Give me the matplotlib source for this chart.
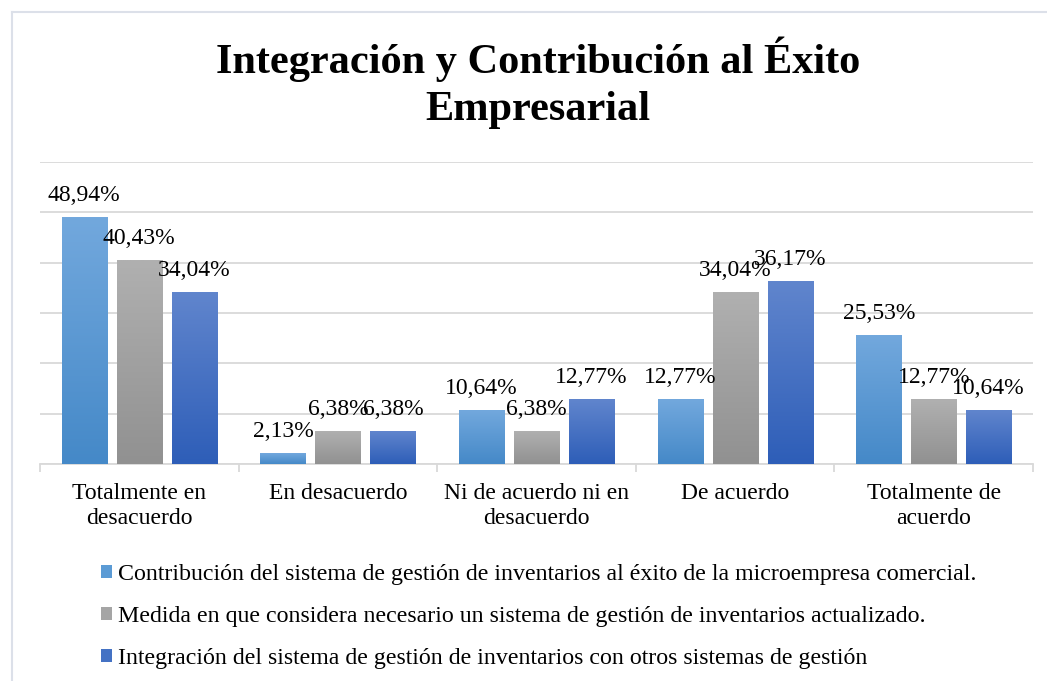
import numpy as np
import matplotlib
matplotlib.use("Agg")
import matplotlib.pyplot as plt
from matplotlib.patches import Patch
from matplotlib.lines import Line2D
from matplotlib.colors import LinearSegmentedColormap

plt.rcParams['font.family'] = ['Liberation Serif', 'DejaVu Serif']

categories = ["Totalmente en\ndesacuerdo", "En desacuerdo", "Ni de acuerdo ni en\ndesacuerdo",
              "De acuerdo", "Totalmente de\nacuerdo"]
contribucion = [48.94, 2.13, 10.64, 12.77, 25.53]
necesario = [40.43, 6.38, 6.38, 34.04, 12.77]
integracion = [34.04, 6.38, 12.77, 36.17, 10.64]
series_names = [
    "Contribución del sistema de gestión de inventarios al éxito de la microempresa comercial.",
    "Medida en que considera necesario un sistema de gestión de inventarios actualizado.",
    "Integración del sistema de gestión de inventarios con otros sistemas de gestión",
]
# (top, bottom) colours of the gradient fill, plus legend colour
gradients = [("#72A8DD", "#4589C8"), ("#B0B0B0", "#919191"), ("#6085CD", "#2E5EB8")]
legend_colors = ["#5B9BD5", "#A5A5A5", "#4472C4"]

fig = plt.figure(figsize=(10.47, 6.81), dpi=100)
ax = fig.add_axes([40 / 1047, 1 - 464 / 681, 993 / 1047, 302 / 681])

x = np.arange(len(categories))
width = 0.227
step = 0.277
all_series = [contribucion, necesario, integracion]

for i, vals in enumerate(all_series):
    offs = (i - 1) * step
    cmap = LinearSegmentedColormap.from_list("g%d" % i, [gradients[i][1], gradients[i][0]])
    bars = ax.bar(x + offs, vals, width, color="none", zorder=3)
    for b, v in zip(bars, vals):
        x0 = b.get_x()
        grad = np.linspace(0, 1, 100).reshape(-1, 1)
        ax.imshow(grad, extent=[x0, x0 + width, 0, v], origin="lower", aspect="auto",
                  cmap=cmap, zorder=3)
        ax.annotate(f"{v:.2f}%".replace(".", ","), (x0 + width / 2, v), xytext=(0, 12),
                    textcoords="offset points", ha="center", va="baseline", fontsize=17,
                    zorder=5)

ax.set_xlim(-0.5, 4.5)
ax.set_ylim(0, 60)
ax.set_yticks(np.arange(0, 61, 10))
ax.yaxis.grid(True, color="#D9D9D9", lw=1.3, zorder=0)
ax.tick_params(axis="y", left=False, labelleft=False)
ax.set_xticks(x)
ax.set_xticklabels(categories, fontsize=17, linespacing=1.25)
ax.tick_params(axis="x", length=0, pad=14)
ax.set_xticks(np.arange(-0.5, 5, 1), minor=True)
ax.tick_params(axis="x", which="minor", length=6, color="#D9D9D9", width=1.3)
for s in ["top", "right", "left"]:
    ax.spines[s].set_visible(False)
ax.spines["bottom"].set_color("#D9D9D9")
ax.spines["bottom"].set_linewidth(1.3)
ax.set_axisbelow(True)

fig.text(538 / 1047, 1 - 83 / 681, "Integración y Contribución al Éxito\nEmpresarial",
         ha="center", va="center", fontsize=30.5, fontweight="bold", linespacing=1.3)

handles = [Patch(facecolor=c, edgecolor="none") for c in legend_colors]
fig.legend(handles, series_names, loc="upper left", bbox_to_anchor=(101 / 1047, 1 - 564 / 681),
           frameon=False, prop={"family": ["Liberation Serif", "DejaVu Serif"], "size": 17.2},
           handlelength=0.47, handleheight=0.47,
           handletextpad=0.25, labelspacing=0.88, borderpad=0, borderaxespad=0)

fig.add_artist(Line2D([11.5 / 1047, 11.5 / 1047], [0, 1 - 11.5 / 681], color="#DCE0E9", lw=1.5))
fig.add_artist(Line2D([11.5 / 1047, 1], [1 - 11.5 / 681, 1 - 11.5 / 681], color="#DCE0E9", lw=1.5))

fig.savefig("out.png", dpi=100)
